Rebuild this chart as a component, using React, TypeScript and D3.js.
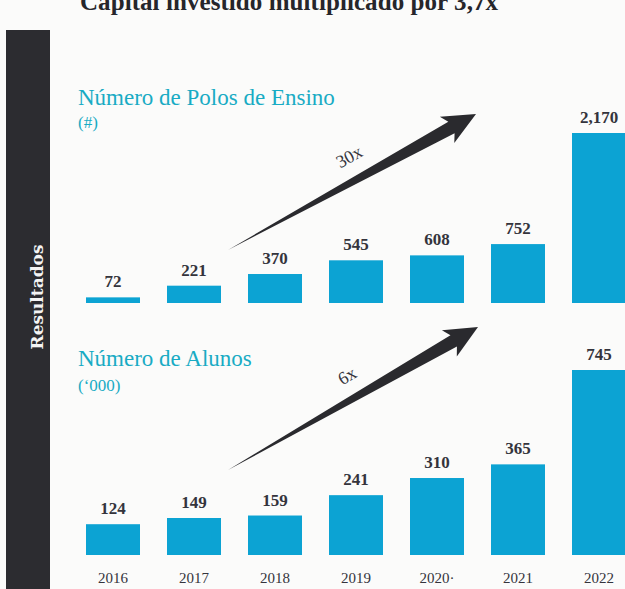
import React, { useEffect, useRef } from 'react';
import * as d3 from 'd3';

const years = ['2016', '2017', '2018', '2019', '2020', '2021', '2022'];
const yearLabels = ['2016', '2017', '2018', '2019', '2020·', '2021', '2022'];
const polos = [72, 221, 370, 545, 608, 752, 2170];
const poloLabels = ['72', '221', '370', '545', '608', '752', '2,170'];
const alunos = [124, 149, 159, 241, 310, 365, 745];
const alunoLabels = ['124', '149', '159', '241', '310', '365', '745'];

const W = 625;
const H = 589;
const BAR = '#0ca3d3';
const TEAL = '#19abc4';
const INK = '#34343c';
const SERIF = '"Liberation Serif", "DejaVu Serif", serif';

// tapered arrow from tail to tip
const arrowPath = (x0, y0, x1, y1) => {
  const a = Math.atan2(y1 - y0, x1 - x0);
  const ux = Math.cos(a), uy = Math.sin(a);
  const nx = -uy, ny = ux;
  const headLen = 28, headW = 15, shaftW = 6.5;
  const bx = x1 - ux * headLen, by = y1 - uy * headLen;
  const pts = [
    [x0, y0],
    [bx + nx * shaftW, by + ny * shaftW],
    [bx + nx * headW - ux * 5, by + ny * headW - uy * 5],
    [x1, y1],
    [bx - nx * headW - ux * 5, by - ny * headW - uy * 5],
    [bx - nx * shaftW, by - ny * shaftW],
  ];
  return 'M' + pts.map(p => p.join(',')).join('L') + 'Z';
};

const App = () => {
  const svgRef = useRef(null);

  useEffect(() => {
    const svg = d3.select(svgRef.current);
    svg.selectAll('*').remove();

    svg.append('rect').attr('width', W).attr('height', H).attr('fill', '#fbfbfa');

    // left side band
    svg.append('rect')
      .attr('x', 6).attr('y', 30).attr('width', 44).attr('height', H - 30)
      .attr('fill', '#2c2c30');
    svg.append('text')
      .attr('transform', 'translate(43,297) rotate(-90)')
      .attr('text-anchor', 'middle')
      .attr('font-family', '"DejaVu Serif", serif')
      .attr('font-weight', 'bold')
      .attr('font-size', 17)
      .attr('fill', '#f4f4f4')
      .text('Resultados');

    // page title (cut by top edge, as in the source slide)
    svg.append('text')
      .attr('x', 80).attr('y', 10)
      .attr('font-family', SERIF)
      .attr('font-weight', 'bold')
      .attr('font-size', 25)
      .attr('textLength', 418)
      .attr('fill', '#26262b')
      .text('Capital investido multiplicado por 3,7x');

    const x = d3.scaleBand()
      .domain(years)
      .range([72.5, 639.5])
      .paddingInner(1 / 3)
      .paddingOuter(1 / 6);

    const panels = [
      {
        title: 'Número de Polos de Ensino', unit: '(#)', titleY: 105, unitY: 128,
        values: polos, labels: poloLabels, domain: [0, 2170], range: [303, 133],
        arrow: [228, 250, 476, 114], mult: '30x', multPos: [352, 162],
      },
      {
        title: 'Número de Alunos', unit: '(‘000)', titleY: 366, unitY: 391,
        values: alunos, labels: alunoLabels, domain: [0, 745], range: [555, 370],
        arrow: [228, 470, 478, 327], mult: '6x', multPos: [350, 381],
      },
    ];

    panels.forEach(p => {
      const y = d3.scaleLinear().domain(p.domain).range(p.range);
      const g = svg.append('g');

      g.append('text')
        .attr('x', 78).attr('y', p.titleY)
        .attr('font-family', SERIF)
        .attr('font-size', 23)
        .attr('fill', TEAL)
        .text(p.title);
      g.append('text')
        .attr('x', 78).attr('y', p.unitY)
        .attr('font-family', SERIF)
        .attr('font-size', 17)
        .attr('fill', TEAL)
        .text(p.unit);

      g.selectAll('.bar')
        .data(p.values)
        .enter()
        .append('rect')
        .attr('class', 'bar')
        .attr('x', (d, i) => x(years[i]))
        .attr('y', d => y(d))
        .attr('width', x.bandwidth())
        .attr('height', d => y(0) - y(d))
        .attr('fill', BAR);

      g.selectAll('.val')
        .data(p.values)
        .enter()
        .append('text')
        .attr('class', 'val')
        .attr('x', (d, i) => x(years[i]) + x.bandwidth() / 2)
        .attr('y', d => y(d) - 10)
        .attr('text-anchor', 'middle')
        .attr('font-family', SERIF)
        .attr('font-weight', 'bold')
        .attr('font-size', 17)
        .attr('fill', INK)
        .text((d, i) => p.labels[i]);

      const [x0, y0, x1, y1] = p.arrow;
      g.append('path').attr('d', arrowPath(x0, y0, x1, y1)).attr('fill', '#2a2a2e');
      const ang = Math.atan2(y1 - y0, x1 - x0) * 180 / Math.PI;
      g.append('text')
        .attr('transform', `translate(${p.multPos[0]},${p.multPos[1]}) rotate(${ang})`)
        .attr('text-anchor', 'middle')
        .attr('font-family', SERIF)
        .attr('font-size', 18)
        .attr('fill', INK)
        .text(p.mult);
    });

    // year axis
    svg.append('g')
      .selectAll('text')
      .data(years)
      .enter()
      .append('text')
      .attr('x', d => x(d) + x.bandwidth() / 2)
      .attr('y', 583)
      .attr('text-anchor', 'middle')
      .attr('font-family', SERIF)
      .attr('font-size', 15)
      .attr('fill', INK)
      .text((d, i) => yearLabels[i]);
  }, []);

  return (
    <div style={{ position: 'fixed', left: 0, top: 0 }}>
      <svg ref={svgRef} width={W} height={H} style={{ display: 'block' }}></svg>
    </div>
  );
};

export default App;
